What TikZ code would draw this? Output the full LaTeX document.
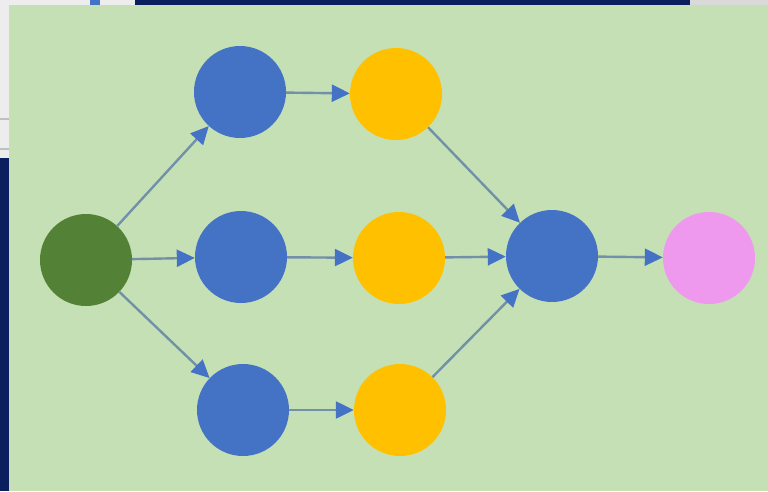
\documentclass[tikz,border=0pt]{standalone}
\usetikzlibrary{arrows.meta}
\definecolor{navy}{HTML}{0A1F5E}
\definecolor{bggreen}{HTML}{C5E0B4}
\definecolor{dgreen}{HTML}{538135}
\definecolor{nblue}{HTML}{4472C4}
\definecolor{nyellow}{HTML}{FFC000}
\definecolor{npink}{HTML}{EE99EE}
\definecolor{linecol}{HTML}{7390AA}
\definecolor{panel}{HTML}{EDEDED}
\tikzset{
  dot/.style={circle, minimum size=92pt, inner sep=0pt, draw=none},
  conn/.style={draw=linecol, line width=2.4pt,
    -{Triangle[length=18pt, width=17pt, color=nblue]}},
}
\begin{document}
\begin{tikzpicture}[x=1pt, y=-1pt]
\useasboundingbox (0,0) rectangle (768,491);
% screenshot frame
\fill[navy] (0,0) rectangle (768,491);
\fill[panel] (0,0) rectangle (135,5);
\fill[nblue] (90,0) rectangle (100,5);
\fill[panel] (0,0) rectangle (9,158);
\fill[gray!50] (0,118) rectangle (9,120);
\fill[gray!50] (0,148) rectangle (9,150);
\fill[gray!30] (690,0) rectangle (768,5);
\fill[bggreen] (9,5) rectangle (768,491);
% nodes
\node[dot, fill=dgreen] (s) at (86,260) {};
\node[dot, fill=nblue] (b1) at (240,92) {};
\node[dot, fill=nblue] (b2) at (241,257) {};
\node[dot, fill=nblue] (b3) at (243,410) {};
\node[dot, fill=nyellow] (y1) at (396,94) {};
\node[dot, fill=nyellow] (y2) at (399,258) {};
\node[dot, fill=nyellow] (y3) at (400,410) {};
\node[dot, fill=nblue] (m) at (552,256) {};
\node[dot, fill=npink] (p) at (709,258) {};
% connectors
\draw[conn] (s) -- (b1);
\draw[conn] (s) -- (b2);
\draw[conn] (s) -- (b3);
\draw[conn] (b1) -- (y1);
\draw[conn] (b2) -- (y2);
\draw[conn] (b3) -- (y3);
\draw[conn] (y1) -- (m);
\draw[conn] (y2) -- (m);
\draw[conn] (y3) -- (m);
\draw[conn] (m) -- (p);
\end{tikzpicture}
\end{document}
